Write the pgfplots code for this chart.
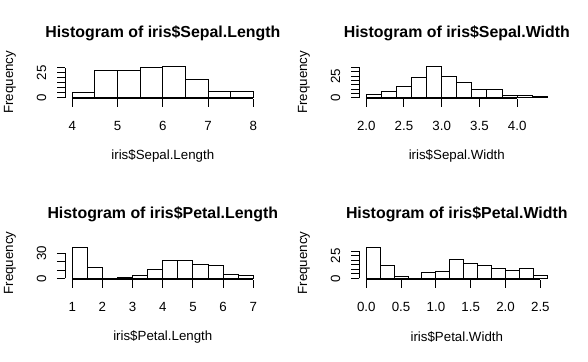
\documentclass[border=0pt]{standalone}
\usepackage{fontspec}
\setmainfont{Liberation Sans}
\usepackage{pgfplots}
\pgfplotsset{compat=1.18}
\pgfplotsset{
  rhist/.style={
    scale only axis, width=195.6bp, height=33.5bp, clip=false,
    axis lines*=left, axis line style={draw=none},
    tick align=outside, major tick length=8bp,
    tick style={black, line width=1bp},
    minor tick num=0,
    ticklabel style={font=\fontsize{13.3bp}{16bp}\selectfont, inner sep=0pt},
    xticklabel style={anchor=north},
    yticklabel style={rotate=90, anchor=south},
    xticklabel shift=14.6bp,
    yticklabel shift=10.5bp,
    label style={font=\fontsize{13.3bp}{16bp}\selectfont},
    every axis title shift=0pt,
    title style={font=\bfseries\fontsize{15.9bp}{18bp}\selectfont, at={(0.5,1.958)}, anchor=center},
    xlabel style={at={(0.5,-1.705)}, anchor=center},
    ylabel style={at={(-0.281,0.5)}, anchor=center},
    ylabel={Frequency},
    /pgf/number format/assume math mode=true,
  },
  rbar/.style={ybar interval, draw=black, fill=white, line width=1bp},
}
\begin{document}
\begin{tikzpicture}
\path[use as bounding box] (0,0) rectangle (588bp,362bp);
% Sepal.Length
\begin{axis}[rhist, at={(65bp,263.1bp)}, anchor=south west,
  xmin=3.84, xmax=8.16, ymin=-1.24, ymax=32.24,
  xtick={4,5,6,7,8}, xticklabels={4,5,6,7,8},
  ytick={0,5,10,15,20,25,30}, yticklabels={0,,,,,25,},
  title={Histogram of iris\$Sepal.Length}, xlabel={iris\$Sepal.Length}]
\addplot[rbar] table {
x y
4.0 5
4.5 27
5.0 27
5.5 30
6.0 31
6.5 18
7.0 6
7.5 6
8.0 6
};
\draw[line width=1bp] (axis cs:4,-1.24) -- (axis cs:8,-1.24);
\draw[line width=1bp] (axis cs:3.84,0) -- (axis cs:3.84,30);
\end{axis}
% Sepal.Width
\begin{axis}[rhist, at={(359bp,263.1bp)}, anchor=south west,
  xmin=1.904, xmax=4.496, ymin=-1.44, ymax=37.44,
  xtick={2,2.5,3,3.5,4}, xticklabels={2.0,2.5,3.0,3.5,4.0},
  ytick={0,5,10,15,20,25,30,35}, yticklabels={0,,,,,25,,},
  title={Histogram of iris\$Sepal.Width}, xlabel={iris\$Sepal.Width}]
\addplot[rbar] table {
x y
2.0 4
2.2 7
2.4 13
2.6 23
2.8 36
3.0 24
3.2 18
3.4 10
3.6 9
3.8 3
4.0 2
4.2 1
4.4 1
};
\draw[line width=1bp] (axis cs:2,-1.44) -- (axis cs:4,-1.44);
\draw[line width=1bp] (axis cs:1.904,0) -- (axis cs:1.904,35);
\end{axis}
% Petal.Length
\begin{axis}[rhist, at={(65bp,82.3bp)}, anchor=south west,
  xmin=0.76, xmax=7.24, ymin=-1.48, ymax=38.48,
  xtick={1,2,3,4,5,6,7}, xticklabels={1,2,3,4,5,6,7},
  ytick={0,10,20,30}, yticklabels={0,,,30},
  title={Histogram of iris\$Petal.Length}, xlabel={iris\$Petal.Length}]
\addplot[rbar] table {
x y
1.0 37
1.5 13
2.0 0
2.5 1
3.0 4
3.5 11
4.0 21
4.5 21
5.0 17
5.5 16
6.0 5
6.5 4
7.0 4
};
\draw[line width=1bp] (axis cs:1,-1.48) -- (axis cs:7,-1.48);
\draw[line width=1bp] (axis cs:0.76,0) -- (axis cs:0.76,30);
\end{axis}
% Petal.Width
\begin{axis}[rhist, at={(359bp,82.3bp)}, anchor=south west,
  xmin=-0.104, xmax=2.704, ymin=-1.36, ymax=35.36,
  xtick={0,0.5,1,1.5,2,2.5}, xticklabels={0.0,0.5,1.0,1.5,2.0,2.5},
  ytick={0,5,10,15,20,25,30}, yticklabels={0,,,,,25,},
  title={Histogram of iris\$Petal.Width}, xlabel={iris\$Petal.Width}]
\addplot[rbar] table {
x y
0.0 34
0.2 14
0.4 2
0.6 0
0.8 7
1.0 8
1.2 21
1.4 16
1.6 14
1.8 11
2.0 9
2.2 11
2.4 3
2.6 3
};
\draw[line width=1bp] (axis cs:0,-1.36) -- (axis cs:2.5,-1.36);
\draw[line width=1bp] (axis cs:-0.104,0) -- (axis cs:-0.104,30);
\end{axis}
\end{tikzpicture}
\end{document}
